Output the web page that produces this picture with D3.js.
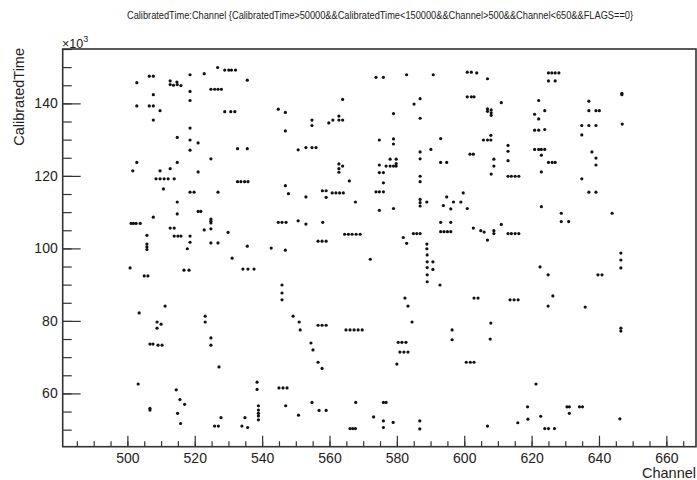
<!DOCTYPE html>
<html>
<head>
<meta charset="utf-8">
<script src="https://cdn.jsdelivr.net/npm/d3@7"></script>
<style>
  body { margin: 0; background: #fff; }
  svg { display: block; font-family: "Liberation Sans", Arial, sans-serif; }
</style>
</head>
<body>
<div id="chart"></div>
<script>
// Channel (x) vs CalibratedTime in units of 10^3 (y)
const points = [
  // upper left block
  [526.8,149.9],[506.5,147.5],[507.7,147.5],[518.6,147.9],[522.8,148.2],[502.8,145.7],
  [512.7,146.2],[514.7,145.9],[512.7,145.2],[513.7,145.0],[514.8,145.2],[515.9,144.9],
  [524.8,143.9],[525.9,143.9],[526.9,143.9],[527.9,143.9],[518.6,143.3],[507.7,142.4],
  [518.6,140.8],[502.8,139.3],[506.5,139.3],[507.7,139.3],[509.7,138.0],[507.7,135.4],
  [518.6,133.2],[514.8,130.6],[518.6,129.9],[521.0,129.1],[518.6,127.1],[524.8,124.7],
  [502.8,123.7],[514.8,123.7],[501.6,121.4],[509.7,121.4],[512.7,122.0],[521.0,121.1],
  [508.5,119.2],[509.7,119.2],[510.9,119.2],[512.1,119.2],[513.9,119.2],[510.7,116.4],
  [518.6,115.5],[519.8,115.5],[526.9,115.5],[514.8,112.8],[514.8,109.5],[521.0,110.2],
  [521.8,110.2],[507.7,108.6],[501.1,106.9],[501.8,106.9],[502.6,106.9],[503.8,106.9],
  [524.8,108.1],[524.8,107.5],[524.8,107.0],[512.7,105.6],[513.9,105.6],[522.8,105.1],
  [524.8,105.4],[505.8,103.6],[513.9,103.4],[515.0,103.4],[515.9,103.4],[518.6,103.4],
  [518.6,101.7],[524.8,101.5],[526.9,101.5],[505.8,101.2],[505.8,100.4],[517.8,99.9],
  [505.8,99.7],
  // upper middle-left block
  [528.9,149.2],[530.1,149.2],[530.9,149.2],[532.1,149.2],[535.6,146.4],[563.9,141.1],
  [528.9,137.7],[530.7,137.7],[531.9,137.7],[544.8,138.4],[546.9,137.5],[554.8,135.4],
  [554.8,133.9],[559.8,134.6],[561.0,135.4],[562.8,136.5],[562.8,135.4],[563.9,135.4],
  [546.9,132.4],[532.7,127.5],[535.6,127.5],[550.7,127.2],[553.0,127.8],[554.8,127.8],
  [556.0,127.8],[562.8,123.3],[563.9,122.7],[562.8,122.0],[562.8,121.0],[532.7,118.4],
  [533.7,118.4],[534.8,118.4],[535.8,118.4],[565.9,118.6],[546.9,117.3],[547.8,115.1],
  [553.0,114.2],[557.9,115.9],[559.0,115.9],[559.0,114.1],[560.8,115.3],[561.9,115.3],
  [563.0,115.3],[564.1,115.3],[567.7,112.8],[529.9,104.4],[544.8,107.2],[545.9,107.2],
  [547.1,107.2],[550.7,107.6],[553.0,106.7],[558.0,107.2],[564.5,103.9],[565.6,103.9],
  [566.7,103.9],[567.9,103.9],[569.1,103.9],[556.6,102.0],[557.8,102.0],[559.0,102.0],
  [535.6,100.6],[542.7,100.1],[546.9,99.5],
  // upper middle-right block
  [573.8,147.2],[576.0,147.2],[582.9,147.9],[590.8,147.9],[600.9,148.6],[602.1,148.6],
  [603.7,148.4],[606.9,146.8],[600.9,141.8],[602.1,141.8],[602.9,141.8],[586.9,141.3],
  [585.1,139.8],[611.0,140.2],[606.9,138.5],[606.9,137.8],[608.0,138.2],[608.0,137.4],
  [608.0,136.7],[579.0,137.2],[586.9,135.9],[574.8,129.9],[579.0,130.2],[579.0,128.8],
  [593.0,130.3],[605.7,129.9],[606.9,129.9],[607.9,129.9],[607.9,131.2],[586.9,126.6],
  [586.9,124.7],[590.1,127.3],[613.0,128.4],[613.0,126.8],[613.0,124.2],[601.7,126.0],
  [602.7,126.0],[578.0,124.6],[579.8,124.6],[574.8,123.0],[576.8,122.7],[578.0,122.7],
  [579.0,122.7],[579.8,122.7],[579.8,123.4],[593.0,123.7],[594.8,123.7],[608.8,124.6],
  [608.8,122.7],[574.8,120.9],[576.0,120.9],[608.0,120.5],[613.0,119.9],[614.0,119.9],
  [615.1,119.9],[616.2,119.9],[586.9,119.9],[586.9,118.4],[576.0,118.1],[573.8,115.6],
  [574.8,115.6],[576.0,115.6],[599.7,115.3],[586.9,113.5],[586.9,112.6],[586.9,111.7],
  [588.9,112.8],[594.8,114.2],[593.8,111.8],[596.8,112.8],[599.0,112.8],[596.0,110.9],
  [600.9,111.0],[579.0,111.0],[574.8,110.5],[593.0,107.2],[596.0,107.2],[611.0,106.6],
  [602.7,105.6],[604.9,104.9],[605.9,104.5],[608.8,104.9],[608.8,104.1],[613.0,104.1],
  [614.0,104.1],[615.1,104.1],[616.2,104.1],[584.9,104.1],[585.9,104.1],[586.9,104.1],
  [593.0,104.6],[594.0,104.6],[595.0,104.6],[596.0,104.6],[581.9,103.0],[582.9,101.4],
  [606.9,102.3],[588.9,101.2],[588.9,99.9],
  // upper right block
  [625.0,148.4],[626.0,148.4],[627.0,148.4],[628.1,148.4],[625.0,146.2],[627.0,146.2],
  [646.8,142.8],[646.8,142.4],[622.1,140.8],[637.0,140.6],[620.9,137.0],[623.9,138.0],
  [622.1,135.7],[637.0,138.0],[639.1,138.0],[640.1,138.0],[620.9,132.6],[622.1,132.6],
  [623.9,132.8],[634.9,133.9],[637.0,133.9],[639.1,133.9],[634.9,131.3],[646.9,134.3],
  [620.9,127.3],[622.1,127.3],[622.9,127.3],[623.9,127.3],[622.9,125.7],[625.0,123.7],
  [626.1,123.7],[627.0,123.7],[637.9,126.6],[639.1,124.9],[639.1,123.0],[622.9,121.1],
  [634.9,119.2],[637.0,115.5],[639.1,115.5],[622.9,111.5],[628.8,109.7],[628.8,107.4],
  [631.0,107.4],[643.9,109.7],
  // middle band (rough reading)
  [500.8,94.6],[505.0,92.4],[506.1,92.4],[503.5,82.2],[503.2,62.6],[506.7,73.6],
  [507.6,73.6],[509.1,73.3],[510.3,73.3],[508.8,79.7],[510.0,79.1],[508.8,78.0],
  [511.2,84.1],[514.5,61.0],[515.6,58.3],[516.8,94.0],[518.3,94.0],[523.1,81.3],
  [523.1,79.7],[524.8,75.3],[524.8,73.3],[527.2,67.3],[531.1,97.3],[534.3,94.3],
  [535.8,94.3],[537.6,94.3],[538.5,63.1],[538.5,61.1],[545.9,89.9],[545.9,87.7],
  [545.9,85.8],[545.0,61.5],[546.2,61.5],[547.4,61.5],[549.2,81.3],[551.0,79.7],
  [551.3,77.5],[554.5,73.9],[555.1,72.0],[556.6,78.8],[557.8,78.8],[559.0,78.8],
  [556.6,68.6],[557.8,66.9],[564.9,77.5],[566.1,77.5],[567.3,77.5],[568.5,77.5],
  [569.7,77.5],[572.1,97.0],[580.4,74.1],[581.5,74.1],[582.7,74.1],[580.9,71.4],
  [582.1,71.4],[583.3,71.4],[582.4,86.3],[583.3,84.1],[584.5,79.7],[589.0,98.2],
  [589.0,96.3],[589.0,94.7],[589.0,92.7],[589.0,90.8],[590.7,96.3],[590.7,94.2],
  [592.8,89.9],[602.9,86.3],[604.1,86.3],[607.9,79.4],[607.7,75.0],[613.6,85.8],
  [614.8,85.8],[616.0,85.8],[622.5,94.9],[624.9,92.7],[624.9,84.1],[626.3,86.9],
  [639.7,92.7],[640.9,92.7],[646.5,98.7],[646.5,96.8],[646.5,94.6],[646.5,78.0],
  [646.5,77.2],[600.6,68.6],[601.8,68.6],[602.9,68.6],[596.4,77.5],[596.4,74.8],
  [621.3,62.6],[635.9,83.8],[580.0,68.1],
  // bottom strip
  [506.7,55.9],[506.7,55.4],[517.0,57.0],[514.9,54.5],[515.8,51.7],[527.8,53.3],
  [525.9,51.0],[527.0,51.0],[534.9,53.3],[534.0,51.0],[535.7,50.6],[538.9,56.6],
  [538.9,55.4],[538.9,54.5],[538.9,53.8],[538.9,52.7],[547.0,56.6],[550.8,54.0],
  [554.8,57.5],[556.9,55.3],[559.0,55.3],[566.1,50.3],[566.9,50.3],[567.7,50.3],
  [567.8,57.5],[573.1,53.5],[576.0,57.5],[576.8,57.5],[576.0,52.4],[576.0,50.6],
  [578.9,52.0],[586.8,52.4],[586.8,50.2],[606.9,51.0],[615.9,51.9],[618.8,56.3],
  [618.9,52.9],[622.7,53.7],[623.9,50.3],[625.0,50.3],[626.8,50.3],[630.5,56.3],
  [631.2,56.3],[631.2,54.5],[634.2,56.3],[635.1,56.3],[646.2,53.0]
];

const xDomain = [480.8, 668.8];
const yDomain = [45.3, 155];
const xMajor = [500, 520, 540, 560, 580, 600, 620, 640, 660];
const xMinor = d3.range(485, 670, 5);
const yMajor = [60, 80, 100, 120, 140];
const yMinor = d3.range(50, 156, 5);

const titleText = 'CalibratedTime:Channel {CalibratedTime>50000&&CalibratedTime<150000&&Channel>500&&Channel<650&&FLAGS==0}';

const width = 697, height = 480;
const frame = { left: 62.7, right: 696, top: 49, bottom: 446.7 };

const svg = d3.select('#chart').append('svg')
  .attr('width', width)
  .attr('height', height);

const x = d3.scaleLinear().domain(xDomain).range([frame.left, frame.right]);
const y = d3.scaleLinear().domain(yDomain).range([frame.bottom, frame.top]);

// Title
svg.append('text')
  .attr('x', 380)
  .attr('y', 19)
  .attr('text-anchor', 'middle')
  .attr('textLength', 506)
  .attr('lengthAdjust', 'spacingAndGlyphs')
  .style('font-size', '10px')
  .attr('fill', '#222')
  .text(titleText);

// Points
svg.append('g')
  .selectAll('circle')
  .data(points)
  .enter()
  .append('circle')
  .attr('cx', d => x(d[0]))
  .attr('cy', d => y(d[1]))
  .attr('r', 1.6)
  .attr('fill', '#111');

// Minor ticks (inside the frame)
svg.append('g')
  .attr('transform', `translate(0,${frame.bottom})`)
  .call(d3.axisBottom(x).tickValues(xMinor).tickSize(-5.5).tickFormat(''))
  .call(g => g.select('.domain').remove());

svg.append('g')
  .attr('transform', `translate(${frame.left},0)`)
  .call(d3.axisLeft(y).tickValues(yMinor).tickSize(-9).tickFormat(''))
  .call(g => g.select('.domain').remove());

// Major ticks and labels
const xAxis = svg.append('g')
  .attr('transform', `translate(0,${frame.bottom})`)
  .call(d3.axisBottom(x).tickValues(xMajor).tickSize(-11).tickPadding(6.5).tickSizeOuter(0));
xAxis.select('.domain').remove();
xAxis.selectAll('text').style('font-size', '14px').attr('fill', '#222');

const yAxis = svg.append('g')
  .attr('transform', `translate(${frame.left},0)`)
  .call(d3.axisLeft(y).tickValues(yMajor).tickSize(-18).tickPadding(5).tickSizeOuter(0));
yAxis.select('.domain').remove();
yAxis.selectAll('text').style('font-size', '14px').attr('fill', '#222');

svg.selectAll('.tick line').attr('stroke', '#333').attr('stroke-width', 1.2);

// Frame
svg.append('rect')
  .attr('x', frame.left)
  .attr('y', frame.top)
  .attr('width', frame.right - frame.left)
  .attr('height', frame.bottom - frame.top)
  .attr('fill', 'none')
  .attr('stroke', '#333')
  .attr('stroke-width', 1.6);

// Axis titles
svg.append('text')
  .attr('x', 696)
  .attr('y', 478)
  .attr('text-anchor', 'end')
  .style('font-size', '14.5px')
  .attr('fill', '#222')
  .text('Channel');

svg.append('text')
  .attr('transform', 'translate(24,48) rotate(-90)')
  .attr('text-anchor', 'end')
  .style('font-size', '14.5px')
  .attr('fill', '#222')
  .text('CalibratedTime');

// Exponent label
const expo = svg.append('text')
  .attr('x', 62)
  .attr('y', 48)
  .style('font-size', '12.5px')
  .attr('fill', '#222');
expo.append('tspan').text('\u00d710');
expo.append('tspan').attr('dy', -6).style('font-size', '9px').text('3');
</script>
</body>
</html>
